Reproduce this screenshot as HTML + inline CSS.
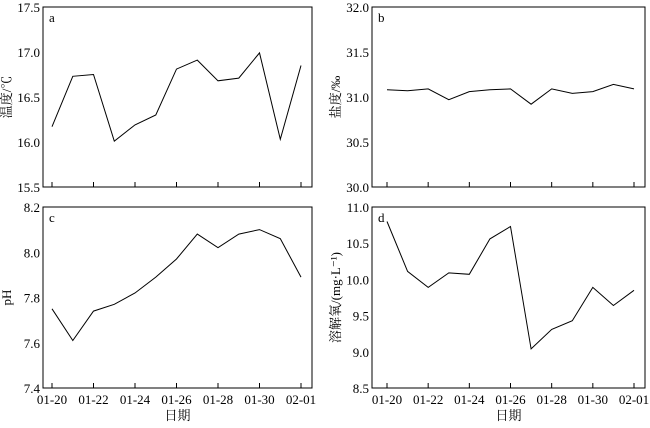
<!DOCTYPE html>
<html><head><meta charset="utf-8"><style>
body{margin:0;background:#fff;width:650px;height:423px;overflow:hidden}
text{font-family:"Liberation Serif","Noto Serif CJK SC",serif;fill:#000}
</style></head><body>
<svg width="650" height="423">
<g id="root"></g>
</svg>
<script>
const dates=["01-20","01-21","01-22","01-23","01-24","01-25","01-26","01-27","01-28","01-29","01-30","01-31","02-01"];
const tempVals=[16.17,16.73,16.75,16.01,16.19,16.30,16.81,16.91,16.68,16.71,16.99,16.03,16.85];
const salVals=[31.08,31.07,31.09,30.97,31.06,31.08,31.09,30.92,31.09,31.04,31.06,31.14,31.09];
const phVals=[7.75,7.61,7.74,7.77,7.82,7.89,7.97,8.08,8.02,8.08,8.10,8.06,7.89];
const doVals=[10.80,10.11,9.89,10.09,10.07,10.56,10.73,9.04,9.31,9.43,9.89,9.64,9.85];
const tempTicks=["15.5","16.0","16.5","17.0","17.5"];
const salTicks=["30.0","30.5","31.0","31.5","32.0"];
const phTicks=["7.4","7.6","7.8","8.0","8.2"];
const doTicks=["8.5","9.0","9.5","10.0","10.5","11.0"];
const xTickLabels=["01-20","01-22","01-24","01-26","01-28","01-30","02-01"];

const NS="http://www.w3.org/2000/svg";
const root=document.getElementById('root');
function mk(tag,attrs,parent){const e=document.createElementNS(NS,tag);for(const k in attrs)e.setAttribute(k,attrs[k]);(parent||root).appendChild(e);return e;}

const panels=[
 {id:'a',L:43,R:312,T:7,B:187,x0:52,x1:301,vals:tempVals,ticks:tempTicks,ylab:'温度/℃',xl:false},
 {id:'b',L:372,R:645,T:7,B:187,x0:387,x1:634,vals:salVals,ticks:salTicks,ylab:'盐度/‰',xl:false},
 {id:'c',L:43,R:312,T:207,B:388,x0:52,x1:301,vals:phVals,ticks:phTicks,ylab:'pH',xl:true},
 {id:'d',L:372,R:645,T:207,B:388,x0:387,x1:634,vals:doVals,ticks:doTicks,ylab:'溶解氧/(mg·L⁻¹)',xl:true}
];
panels.forEach(p=>{
 const g=mk('g',{});
 
 
 const lo=+p.ticks[0],hi=+p.ticks[p.ticks.length-1];
 const y=v=>p.B-(v-lo)/(hi-lo)*(p.B-p.T);
 const x=i=>p.x0+i*(p.x1-p.x0)/(dates.length-1);
 const fr=mk('rect',{x:p.L,y:p.T,width:p.R-p.L,height:p.B-p.T,fill:'none',stroke:'#000','stroke-width':1},g);
 
 
 p.ticks.forEach(t=>{
  const tx=mk('text',{x:p.L-3,y:y(+t)+5,'text-anchor':'end','font-size':13},g);
  tx.textContent=t;
  
  
 });
 for(let i=0;i<dates.length;i+=2){
  mk('line',{x1:x(i),x2:x(i),y1:p.B,y2:p.B-5,stroke:'#000'},g);
  if(p.xl){
   const tx=mk('text',{x:x(i),y:p.B+16,'text-anchor':'middle','font-size':13},g);
   tx.textContent=xTickLabels[i/2];
   
   
  }
 }
 const pts=p.vals.map((v,i)=>x(i).toFixed(1)+','+y(v).toFixed(1)).join(' ');
 const ln=mk('polyline',{points:pts,fill:'none',stroke:'#000','stroke-width':1},g);
 
 
 const lb=mk('text',{x:p.L+6,y:p.T+15,'font-size':13},g);
 lb.textContent=p.id;
 
 
 const cy=(p.T+p.B)/2, cx=p.L-32;
 const yl=mk('text',{x:cx,y:cy,'text-anchor':'middle','font-size':13,transform:`rotate(-90 ${cx} ${cy})`},g);
 yl.textContent=p.ylab;
 
 
 if(p.xl){
  const xt=mk('text',{x:(p.L+p.R)/2,y:p.B+32,'text-anchor':'middle','font-size':13},g);
  xt.textContent='日期';
  
  
 }
});
</script>
</body></html>
